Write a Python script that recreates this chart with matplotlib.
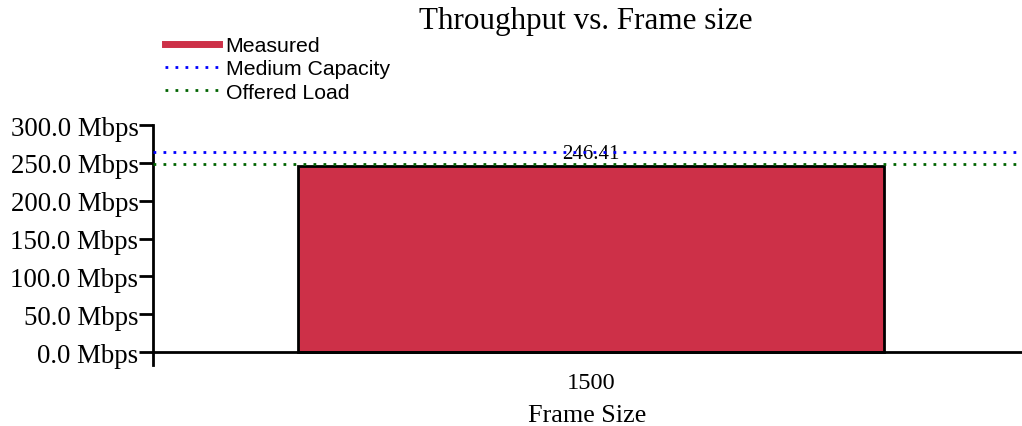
import matplotlib
matplotlib.use('Agg')
from matplotlib import pyplot as plt
from matplotlib.lines import Line2D

frame_sizes = ['1500']
measured = [246.41]
medium_capacity = 264.0
offered_load = 248.0
y_ticks = [0, 50, 100, 150, 200, 250, 300]

SERIF = ['Liberation Serif', 'DejaVu Serif']
SANS = ['Liberation Sans', 'DejaVu Sans']
RED = '#cd3048'

fig = plt.figure(figsize=(10.22, 4.27), dpi=100)
ax = fig.add_axes([153 / 1022, 1 - 366 / 427, 1 - 153 / 1022, (366 - 126) / 427])

# spine position first, it resets the ticks
for s in ['top', 'right']:
    ax.spines[s].set_visible(False)
ax.spines['bottom'].set_position(('data', 0))
ax.spines['bottom'].set_linewidth(2)
ax.spines['left'].set_linewidth(2)
ax.patch.set_alpha(0)

x = list(range(len(frame_sizes)))
bars = ax.bar(x, measured, width=0.674, color=RED, edgecolor='black', linewidth=2, zorder=2)
for rect, v in zip(bars, measured):
    ax.text(rect.get_x() + rect.get_width() / 2, v + 3, '{:.2f}'.format(v),
            ha='center', va='bottom', family=SERIF, fontsize=15, zorder=1)

dot = (0, (1, 2.6))
ax.axhline(medium_capacity, color='#0000ff', linewidth=2, linestyle=dot, zorder=3)
ax.axhline(offered_load, color='#006400', linewidth=2, linestyle=dot, zorder=3)

ax.set_xlim(-0.504, 0.496)
ax.set_ylim(-17, 300)
ax.set_yticks(y_ticks)
ax.set_yticklabels(['{:.1f} Mbps'.format(t) for t in y_ticks], family=SERIF, fontsize=19.4)
ax.set_xticks(x)
ax.set_xticklabels(frame_sizes, family=SERIF, fontsize=17.6)
ax.tick_params(axis='x', length=0, pad=14)
ax.tick_params(axis='y', length=10, width=2, direction='out', pad=0.5)

ax.set_xlabel('Frame Size', family=SERIF, fontsize=18.8, labelpad=8)
fig.text(586 / 1022, 1 - 21 / 427, 'Throughput vs. Frame size', ha='center', va='center',
         family=SERIF, fontsize=22.4)

handles = [Line2D([], [], color=RED, linewidth=5),
           Line2D([], [], color='#0000ff', linewidth=2, linestyle=dot),
           Line2D([], [], color='#006400', linewidth=2, linestyle=dot)]
fig.legend(handles, ['Measured', 'Medium Capacity', 'Offered Load'],
           loc='upper left', bbox_to_anchor=(165 / 1022, 1 - 37 / 427), frameon=False,
           prop={'family': SANS, 'size': 15.3}, handlelength=2.55, handletextpad=0.3,
           labelspacing=0.21, borderpad=0, borderaxespad=0)

fig.savefig('out.png', dpi=100)
